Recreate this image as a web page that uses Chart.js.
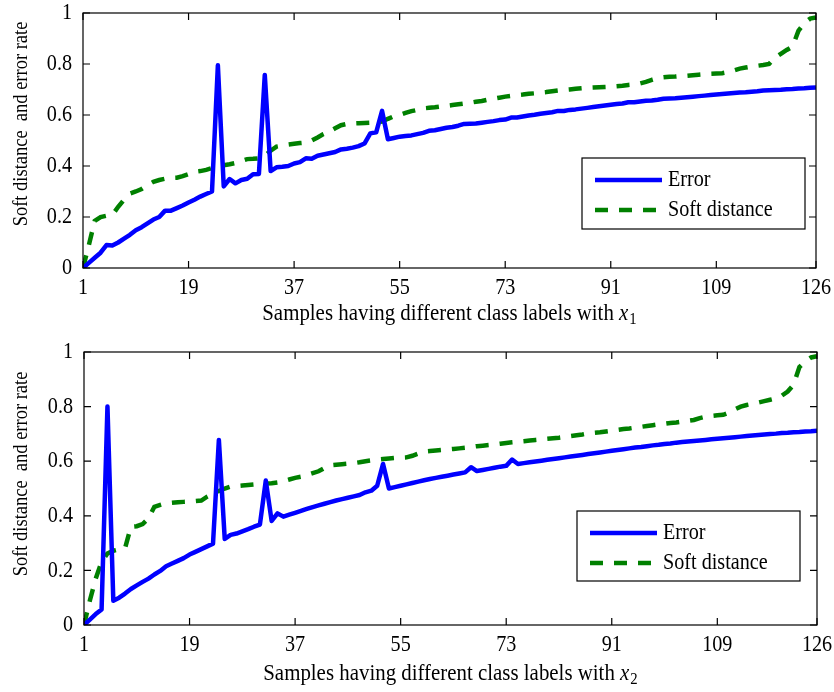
<!DOCTYPE html>
<html>
<head>
<meta charset="utf-8">
<script src="https://cdn.jsdelivr.net/npm/chart.js@4"></script>
<style>
  body { margin: 0; background: #fff; }
  canvas { display: block; }
</style>
</head>
<body>
<canvas id="chartX1" width="834" height="340"></canvas>
<canvas id="chartX2" width="834" height="352"></canvas>
<script>
// Sample index on the x axis and the tick labels
const samples = Array.from({ length: 126 }, (_, i) => i + 1);
const xTicks = [1, 19, 37, 55, 73, 91, 109, 126];
const yTicks = [0, 0.2, 0.4, 0.6, 0.8, 1];

// x1 panel
const errorX1 = [
    0, 0.02, 0.04, 0.06, 0.09, 0.088, 0.10, 0.115, 0.13, 0.148,
    0.16, 0.175, 0.19, 0.20, 0.225, 0.225, 0.235, 0.245, 0.257, 0.268,
    0.28, 0.29, 0.30, 0.795, 0.32, 0.349, 0.332, 0.345, 0.35, 0.368,
    0.369, 0.757, 0.38, 0.395, 0.397, 0.40, 0.41, 0.415, 0.43, 0.428,
    0.44, 0.445, 0.45, 0.455, 0.465, 0.468, 0.472, 0.478, 0.488, 0.528,
    0.532, 0.616, 0.505, 0.51, 0.515, 0.518, 0.52, 0.525, 0.53, 0.538,
    0.54, 0.545, 0.55, 0.553, 0.558, 0.565, 0.566, 0.567, 0.57, 0.573,
    0.576, 0.58, 0.582, 0.59, 0.59, 0.594, 0.598, 0.601, 0.605, 0.608,
    0.611, 0.616, 0.616, 0.62, 0.622, 0.625, 0.628, 0.631, 0.634, 0.637,
    0.64, 0.643, 0.645, 0.65, 0.65, 0.653, 0.656, 0.657, 0.66, 0.664,
    0.665, 0.666, 0.668, 0.67, 0.672, 0.674, 0.676, 0.678, 0.68, 0.682,
    0.684, 0.686, 0.688, 0.689, 0.691, 0.693, 0.696, 0.697, 0.698, 0.699,
    0.701, 0.702, 0.704, 0.705, 0.707, 0.708
];
const softX1 = [
    0, 0.09, 0.185, 0.2, 0.205, 0.208, 0.24, 0.268, 0.292, 0.30,
    0.31, 0.325, 0.338, 0.345, 0.35, 0.353, 0.354, 0.36, 0.368, 0.377,
    0.38, 0.385, 0.392, 0.40, 0.403, 0.407, 0.412, 0.42, 0.427, 0.428,
    0.43, 0.44, 0.46, 0.476, 0.48, 0.484, 0.487, 0.49, 0.492, 0.50,
    0.512, 0.525, 0.535, 0.548, 0.56, 0.565, 0.567, 0.568, 0.569, 0.57,
    0.572, 0.574, 0.585, 0.595, 0.60, 0.608, 0.615, 0.62, 0.626, 0.628,
    0.63, 0.633, 0.636, 0.639, 0.642, 0.645, 0.648, 0.652, 0.655, 0.66,
    0.664, 0.668, 0.672, 0.675, 0.678, 0.68, 0.683, 0.685, 0.688, 0.69,
    0.693, 0.696, 0.698, 0.70, 0.703, 0.705, 0.707, 0.708, 0.709, 0.71,
    0.711, 0.713, 0.715, 0.718, 0.72, 0.724, 0.73, 0.738, 0.745, 0.748,
    0.75, 0.751, 0.753, 0.754, 0.756, 0.758, 0.76, 0.762, 0.763, 0.764,
    0.768, 0.775, 0.782, 0.786, 0.79, 0.793, 0.796, 0.80, 0.825, 0.84,
    0.855, 0.868, 0.93, 0.96, 0.978, 0.982
];

// x2 panel
const errorX2 = [
    0, 0.02, 0.04, 0.057, 0.80, 0.089, 0.10, 0.115, 0.132, 0.145,
    0.158, 0.17, 0.185, 0.198, 0.215, 0.225, 0.235, 0.245, 0.258, 0.268,
    0.278, 0.288, 0.298, 0.678, 0.315, 0.33, 0.335, 0.343, 0.351, 0.36,
    0.368, 0.529, 0.381, 0.409, 0.397, 0.404, 0.411, 0.418, 0.425, 0.432,
    0.438, 0.444, 0.45, 0.456, 0.461, 0.466, 0.471, 0.476, 0.486, 0.492,
    0.51, 0.59, 0.50, 0.505, 0.51, 0.515, 0.52, 0.525, 0.53, 0.535,
    0.539, 0.543, 0.547, 0.551, 0.555, 0.559, 0.578, 0.564, 0.568, 0.572,
    0.576, 0.58, 0.583, 0.606, 0.59, 0.593, 0.596, 0.599, 0.602, 0.605,
    0.608, 0.611, 0.614, 0.617, 0.62, 0.623, 0.626, 0.629, 0.632, 0.635,
    0.638, 0.641, 0.644, 0.647, 0.65, 0.652, 0.655, 0.658, 0.66, 0.663,
    0.665, 0.668, 0.67, 0.672, 0.674, 0.676, 0.678, 0.68, 0.682, 0.684,
    0.686, 0.688, 0.69, 0.692, 0.694, 0.696, 0.698, 0.70, 0.701, 0.703,
    0.704, 0.706, 0.707, 0.709, 0.71, 0.712
];
const softX2 = [
    0, 0.09, 0.17, 0.232, 0.262, 0.272, 0.277, 0.281, 0.36, 0.362,
    0.37, 0.391, 0.433, 0.44, 0.446, 0.448, 0.45, 0.451, 0.452, 0.454,
    0.456, 0.47, 0.48, 0.491, 0.50, 0.507, 0.509, 0.511, 0.513, 0.515,
    0.516, 0.518, 0.519, 0.522, 0.527, 0.533, 0.539, 0.543, 0.549, 0.556,
    0.563, 0.575, 0.585, 0.587, 0.589, 0.591, 0.593, 0.596, 0.6, 0.603,
    0.606, 0.608, 0.61, 0.612, 0.613, 0.614, 0.62, 0.628, 0.635, 0.637,
    0.639, 0.641, 0.643, 0.645, 0.647, 0.649, 0.652, 0.655, 0.657, 0.659,
    0.661, 0.664, 0.667, 0.669, 0.671, 0.673, 0.676, 0.678, 0.68, 0.682,
    0.684, 0.686, 0.689, 0.692, 0.695, 0.698, 0.702, 0.704, 0.706, 0.709,
    0.712, 0.715, 0.718, 0.72, 0.723, 0.726, 0.729, 0.732, 0.735, 0.737,
    0.74, 0.742, 0.745, 0.748, 0.751, 0.758, 0.763, 0.766, 0.768, 0.77,
    0.778, 0.79, 0.80, 0.806, 0.81, 0.815, 0.82, 0.825, 0.83, 0.84,
    0.855, 0.88, 0.945, 0.965, 0.98, 0.985
];

const serif = '"Liberation Serif", "Times New Roman", serif';
const dash = [13, 11];
const squeeze = 0.84; // the figure's text is a bit narrow for its height

// writes text squeezed horizontally, returns the width used
function text(ctx, str, x, y, size, align, style, sq = squeeze) {
    ctx.font = (style ? style + ' ' : '') + size + 'px ' + serif;
    const w = ctx.measureText(str).width * sq;
    ctx.textAlign = align;
    ctx.fillText(str, x, y, w);
    return w;
}

// box around the axes, inward ticks on all sides, tick labels, titles and the legend
const figurePlugin = {
    id: 'figure',
    afterDraw(chart, args, opts) {
        const { ctx, chartArea: a, scales: { x, y } } = chart;
        ctx.save();
        ctx.strokeStyle = '#000';
        ctx.lineWidth = 1.2;
        ctx.strokeRect(a.left, a.top, a.right - a.left, a.bottom - a.top);
        ctx.fillStyle = '#000';
        ctx.textBaseline = 'middle';
        x.ticks.forEach(t => {
            const px = x.getPixelForValue(t.value);
            ctx.beginPath();
            ctx.moveTo(px, a.bottom); ctx.lineTo(px, a.bottom - 7);
            ctx.moveTo(px, a.top); ctx.lineTo(px, a.top + 7);
            ctx.stroke();
            text(ctx, String(t.value), px, a.bottom + 20, 24, 'center');
        });
        y.ticks.forEach(t => {
            const py = y.getPixelForValue(t.value);
            ctx.beginPath();
            ctx.moveTo(a.left, py); ctx.lineTo(a.left + 7, py);
            ctx.moveTo(a.right, py); ctx.lineTo(a.right - 7, py);
            ctx.stroke();
            text(ctx, String(t.value), a.left - 11, py, 24, 'right');
        });

        // y title
        ctx.save();
        ctx.translate(21, opts.yTitleY);
        ctx.rotate(-Math.PI / 2);
        text(ctx, 'Soft distance  and error rate', 0, 0, 22, 'center');
        ctx.restore();

        // x title with italic x and a subscript
        const sq = 0.87;
        const main = 'Samples having different class labels with ';
        ctx.font = '24px ' + serif;
        const w1 = ctx.measureText(main).width * sq;
        ctx.font = 'italic 24px ' + serif;
        const w2 = ctx.measureText('x').width * sq;
        ctx.font = '17px ' + serif;
        const w3 = ctx.measureText(opts.sub).width * sq;
        const tx = (a.left + a.right) / 2 - (w1 + w2 + w3 + 1) / 2;
        text(ctx, main, tx, opts.xTitleY, 24, 'left', '', sq);
        text(ctx, 'x', tx + w1, opts.xTitleY, 24, 'left', 'italic', sq);
        text(ctx, opts.sub, tx + w1 + w2 + 1, opts.xTitleY + 6, 17, 'left', '', sq);

        // legend
        const L = opts.legend;
        ctx.fillStyle = '#fff';
        ctx.fillRect(L.x, L.y, L.w, L.h);
        ctx.strokeStyle = '#000';
        ctx.lineWidth = 1.2;
        ctx.strokeRect(L.x, L.y, L.w, L.h);
        chart.data.datasets.forEach((ds, i) => {
            const ly = L.y + 22 + i * 30;
            ctx.beginPath();
            ctx.strokeStyle = ds.borderColor;
            ctx.lineWidth = ds.borderWidth;
            ctx.setLineDash(ds.borderDash || []);
            ctx.moveTo(L.x + 13, ly);
            ctx.lineTo(L.x + 80, ly);
            ctx.stroke();
            ctx.setLineDash([]);
            ctx.fillStyle = '#000';
            text(ctx, ds.label, L.x + 86, ly, 24, 'left');
        });
        ctx.restore();
    }
};

function makeChart(id, errorData, softData, fig) {
    new Chart(document.getElementById(id), {
        type: 'line',
        data: {
            datasets: [{
                label: 'Error',
                data: samples.map((s, i) => ({ x: s, y: errorData[i] })),
                borderColor: '#0000ff',
                borderWidth: 4.5,
                pointRadius: 0,
                borderJoinStyle: 'round',
                tension: 0
            }, {
                label: 'Soft distance',
                data: samples.map((s, i) => ({ x: s, y: softData[i] })),
                borderColor: '#008000',
                borderWidth: 4.5,
                borderDash: dash,
                pointRadius: 0,
                tension: 0
            }]
        },
        options: {
            responsive: false,
            animation: false,
            devicePixelRatio: 1,
            layout: { padding: { top: fig.top, right: fig.right, left: 0, bottom: 0 } },
            scales: {
                x: {
                    type: 'linear',
                    min: 1,
                    max: 126,
                    afterBuildTicks: s => { s.ticks = xTicks.map(v => ({ value: v })); },
                    afterFit: s => { s.height = fig.xHeight; },
                    ticks: { display: false },
                    grid: { display: false, drawTicks: false },
                    border: { display: false }
                },
                y: {
                    min: 0,
                    max: 1,
                    afterBuildTicks: s => { s.ticks = yTicks.map(v => ({ value: v })); },
                    afterFit: s => { s.width = fig.yWidth; },
                    ticks: { display: false },
                    grid: { display: false, drawTicks: false },
                    border: { display: false }
                }
            },
            plugins: {
                legend: { display: false },
                tooltip: { enabled: false },
                figure: fig
            }
        },
        plugins: [figurePlugin]
    });
}

makeChart('chartX1', errorX1, softX1, {
    top: 13, right: 18, xHeight: 72, yWidth: 83,
    yTitleY: 124, xTitleY: 314, sub: '1',
    legend: { x: 582, y: 158, w: 223, h: 71 }
});
makeChart('chartX2', errorX2, softX2, {
    top: 12, right: 17, xHeight: 67, yWidth: 84,
    yTitleY: 134, xTitleY: 334, sub: '2',
    legend: { x: 577, y: 171, w: 223, h: 70 }
});
</script>
</body>
</html>
